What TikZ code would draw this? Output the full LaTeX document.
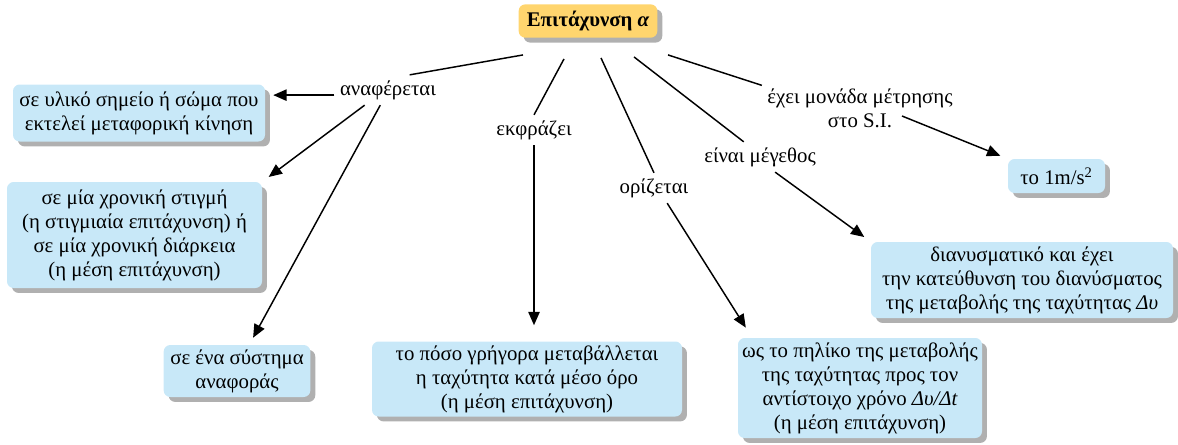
\documentclass[tikz,border=0pt]{standalone}
\usepackage{fontspec}
\setmainfont{Liberation Serif}
\usepackage{xcolor}
\usetikzlibrary{arrows.meta, positioning, calc, shadows}
\definecolor{conceptblue}{RGB}{200,232,248}
\definecolor{titleyellow}{RGB}{255,213,110}
\definecolor{shadowgray}{RGB}{176,176,176}
\tikzset{
    concept/.style={rectangle, rounded corners=5pt, fill=conceptblue, align=center, inner sep=2pt,
        drop shadow={shadow xshift=3.7pt, shadow yshift=-3.7pt, fill=shadowgray, opacity=1}},
    linkword/.style={align=center, inner sep=4pt},
    link/.style={line width=1.1pt},
    arrow/.style={line width=1.1pt, -{Triangle[length=10pt,width=8.5pt]}, shorten >=6pt}
}

\begin{document}
\begin{tikzpicture}[x=0.75pt, y=-0.75pt, every node/.style={font=\fontsize{15.6}{18}\selectfont}]
    \useasboundingbox (0,0) rectangle (1178,444);

    \node (title) [concept, fill=titleyellow, minimum width=104pt, minimum height=25pt, font=\fontsize{15.6}{18}\selectfont\bfseries] at (588,21) {Επιτάχυνση {\itshape α}};

    % linking words
    \node (anafer) [linkword] at (388,90) {αναφέρεται};
    \node (ekfr) [linkword] at (534,130) {εκφράζει};
    \node (oriz) [linkword] at (654,188) {ορίζεται};
    \node (megeth) [linkword] at (760,157) {είναι μέγεθος};
    \node (exei) [linkword] at (860,108) {έχει μονάδα μέτρησης\\στο S.I.};

    % concepts
    \node (soma) [concept, minimum width=189pt, minimum height=42.75pt] at (139,113) {σε υλικό σημείο ή σώμα που\\εκτελεί μεταφορική κίνηση};
    \node (stigmi) [concept, minimum width=191.25pt, minimum height=79.5pt] at (134.5,235) {σε μία χρονική στιγμή\\(η στιγμιαία επιτάχυνση) ή\\σε μία χρονική διάρκεια\\(η μέση επιτάχυνση)};
    \node (systima) [concept, minimum width=110pt, minimum height=39pt] at (237,371) {σε ένα σύστημα\\αναφοράς};
    \node (meso) [concept, minimum width=232.5pt, minimum height=56.25pt] at (527,379) {το πόσο γρήγορα μεταβάλλεται\\η ταχύτητα κατά μέσο όρο\\(η μέση επιτάχυνση)};
    \node (piliko) [concept, minimum width=183pt, minimum height=75pt] at (860,388) {ως το πηλίκο της μεταβολής\\της ταχύτητας προς τον\\αντίστοιχο χρόνο {\itshape Δυ/Δt}\\(η μέση επιτάχυνση)};
    \node (dianysma) [concept, minimum width=226.5pt, minimum height=57pt] at (1022,280) {διανυσματικό και έχει\\την κατεύθυνση του διανύσματος\\της μεταβολής της ταχύτητας {\itshape Δυ}};
    \node (monada) [concept, minimum width=72.75pt, minimum height=25.5pt] at (1056.5,176) {το 1m/s\textsuperscript{2}};

    \draw [link] ([shift={(-65,17)}]title.south) -- (anafer.35);
    \draw [link] ([shift={(-24,21)}]title.south) -- (ekfr.north);
    \draw [link] ([shift={(13,20)}]title.south) -- (oriz.north);
    \draw [link] ([shift={(46,19)}]title.south) -- (megeth.137);
    \draw [link] ([shift={(80,17)}]title.south) -- (exei.167);

    \draw [arrow] (anafer.base west) -- (anafer.base west -| soma.east);
    \draw [arrow] (anafer.213) -- (stigmi.north east);
    \draw [arrow] (anafer.243) -- (systima.65);
    \draw [arrow, shorten >=12pt] (ekfr.south) -- (ekfr.south |- meso.north);
    \draw [arrow, shorten >=9pt] (oriz.-49) -- (piliko.155);
    \draw [arrow] (megeth.-45) -- (dianysma.north west);
    \draw [arrow] ([shift={(42,8)}]exei.center) -- (monada.north west);
\end{tikzpicture}
\end{document}
